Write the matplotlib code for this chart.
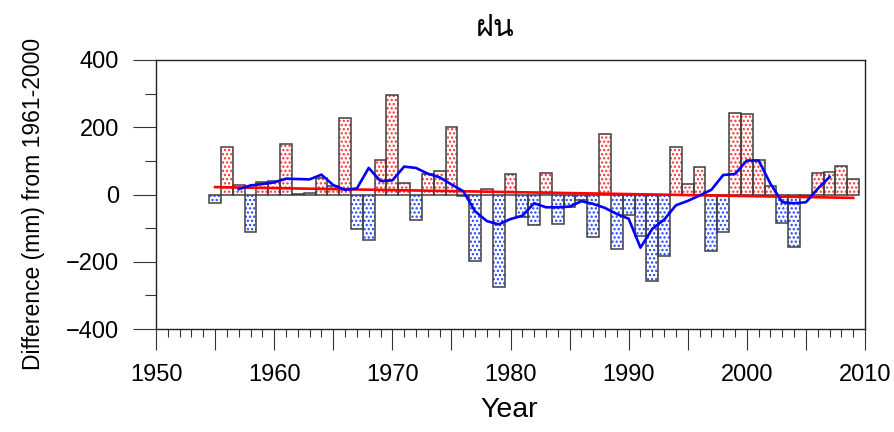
import matplotlib
matplotlib.use("Agg")
import matplotlib.pyplot as plt
from matplotlib import font_manager, ft2font
from matplotlib.ticker import MultipleLocator, FuncFormatter

# annual rainfall difference from 1961-2000 mean (mm)
years = list(range(1955, 2010))
diff = [-26, 142, 28, -112, 37, 41, 149, 2, 4, 50,
        25, 227, -102, -136, 103, 296, 33, -76, 60, 71,
        202, -5, -198, 17, -276, 62, -67, -91, 64, -87,
        -36, -15, -125, 179, -163, -60, -123, -257, -182, 142,
        32, 83, -168, -112, 243, 239, 103, 25, -84, -155,
        -4, 65, 68, 86, 45]

# smoothed curve (blue)
smooth_years = list(range(1957, 2008))
smooth = [16, 27, 31, 36, 47, 46, 45, 59, 28, 14,
          18, 79, 40, 42, 83, 79, 62, 51, 30, 10,
          -50, -79, -89, -73, -63, -26, -38, -38, -36, -20,
          -28, -40, -58, -72, -158, -102, -75, -32, -19, -3,
          14, 58, 61, 101, 101, 32, -23, -26, -23, 17, 52]

# linear trend (red)
trend_years = [1955, 2009]
trend = [22, -10]

title = "ฝน"


def thai_font():
    for f in font_manager.fontManager.ttflist:
        try:
            if 0x0E1D in ft2font.FT2Font(f.fname).get_charmap():
                return f.name
        except Exception:
            pass
    return "DejaVu Sans"


plt.rcParams["font.family"] = ["Liberation Sans", "DejaVu Sans"]
plt.rcParams["hatch.linewidth"] = 1.1

fig = plt.figure(figsize=(8.95, 4.32), dpi=100)
ax = fig.add_axes([156 / 895, 1 - 329 / 432, (865 - 156) / 895, (329 - 60) / 432])

pos = [(y, v) for y, v in zip(years, diff) if v >= 0]
neg = [(y, v) for y, v in zip(years, diff) if v < 0]

for data, col in ((pos, "#ff3030"), (neg, "#2040ff")):
    xs = [d[0] for d in data]
    vs = [d[1] for d in data]
    ax.bar(xs, vs, width=1.0, facecolor="white", edgecolor=col,
           linewidth=0, hatch="....", zorder=2)
    ax.bar(xs, vs, width=1.0, facecolor="none", edgecolor="#404040",
           linewidth=1.1, zorder=3)

ax.plot(trend_years, trend, color="#ff0000", lw=1.9, zorder=4)
ax.plot(smooth_years, smooth, color="#0000ff", lw=1.9, zorder=5)

ax.set_xlim(1950, 2010)
ax.set_ylim(-400, 400)

ax.xaxis.set_major_locator(MultipleLocator(5))
ax.xaxis.set_minor_locator(MultipleLocator(1))
ax.xaxis.set_major_formatter(FuncFormatter(lambda v, p: f"{int(v)}" if int(v) % 10 == 0 else ""))
ax.yaxis.set_major_locator(MultipleLocator(200))
ax.yaxis.set_minor_locator(MultipleLocator(100))

ax.tick_params(axis="y", which="major", direction="out", length=16.5, width=0.8,
               pad=10, labelsize=17, color="#333333")
ax.tick_params(axis="y", which="minor", direction="out", length=8, width=0.8, color="#333333")
ax.tick_params(axis="x", which="major", direction="out", length=15, width=0.8,
               pad=10, labelsize=17, color="#333333")
ax.tick_params(axis="x", which="minor", direction="out", length=6, width=0.8, color="#333333")

for s in ax.spines.values():
    s.set_linewidth(1.0)
    s.set_color("#222222")

fig.text(509 / 895, 1 - 410 / 432, "Year", ha="center", va="center", fontsize=20.5)
fig.text(34 / 895, 1 - 204 / 432, "Difference (mm) from 1961-2000", rotation=90,
         ha="center", va="center", fontsize=16.5)
fig.text(495 / 895, 1 - 28 / 432, title, ha="center", va="center", fontsize=22,
         family=[thai_font(), "DejaVu Sans"])

fig.savefig("out.png", dpi=100, facecolor="white")
